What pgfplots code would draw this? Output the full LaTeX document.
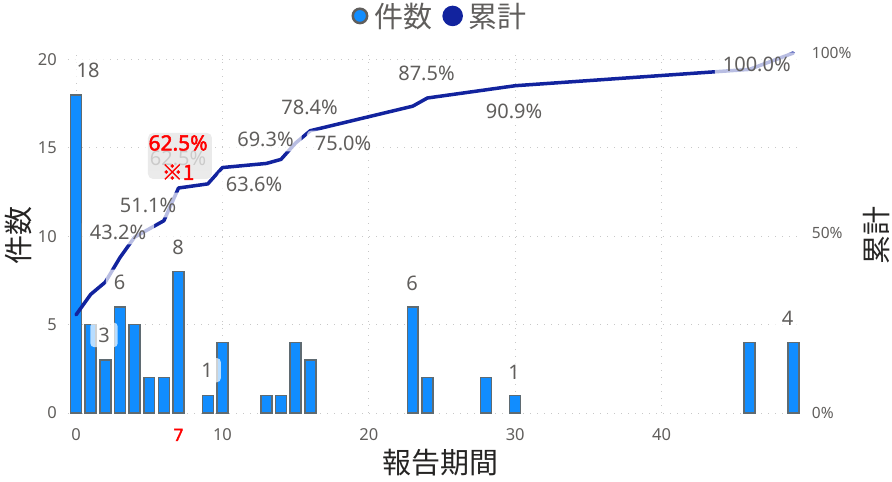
\documentclass[border=0pt]{standalone}
\usepackage{fontspec}
\setmainfont{Noto Sans}
\newfontfamily\cjk{Noto Sans CJK JP}
\newfontfamily\fbold{Noto Sans}[FakeBold=2.2]
\newfontfamily\cjkbold{Noto Sans CJK JP}[FakeBold=1.8]
\usepackage{pgfplots}
\pgfplotsset{compat=1.18}
\definecolor{barblue}{HTML}{118DFF}
\definecolor{barborder}{HTML}{5F6B72}
\definecolor{lineblue}{HTML}{12239E}
\definecolor{textgray}{HTML}{605E5C}
\definecolor{titledark}{HTML}{252423}
\definecolor{gridgray}{HTML}{C8C8C8}
\definecolor{redc}{HTML}{FF0000}
\definecolor{boxgray}{HTML}{E6E6E6}
\begin{document}
\begin{tikzpicture}[x=1pt,y=1pt]
\useasboundingbox (0,0) rectangle (892,482);
\pgfplotsset{
  base/.style={
    scale only axis, width=732.7pt, height=360pt,
    at={(68pt,69pt)}, anchor=south west,
    xmin=-0.55, xmax=49.5,
    axis line style={draw=none},
    tick style={draw=none},
    clip=false,
    /pgf/number format/assume math mode=true,
    tick label style={font=\fontsize{16.5}{18}\selectfont, text=textgray},
  }
}
\tikzset{
  dlabel/.style={font=\fontsize{20}{22}\selectfont, text=textgray, fill=white, fill opacity=0.7, text opacity=1, rounded corners=4pt, inner xsep=8pt, inner ysep=5pt}
}
\begin{axis}[base,
  ybar,
  ymin=0, ymax=20.37,
  ytick={0,5,10,15,20},
  xtick={0,10,20,30,40},
  extra x ticks={7},
  extra x tick style={grid=none, tick label style={text=redc, font=\fbold\fontsize{17}{18}\selectfont}},
  grid=major,
  grid style={gridgray, line width=0.9pt, dash pattern=on 1pt off 6pt},
  xticklabel style={yshift=-8pt},
  yticklabel style={xshift=-7.7pt},
  ylabel={件数},
  xlabel={報告期間},
  every axis y label/.style={at={(axis description cs:-0.068,0.494)}, anchor=center, rotate=90, font=\cjk\fontsize{29}{32}\selectfont, text=titledark},
  every axis x label/.style={at={(axis description cs:0.508,-0.139)}, anchor=center, font=\cjk\fontsize{29}{32}\selectfont, text=titledark},
]
\addplot[fill=barblue, draw=barborder, line width=1.5pt, bar width=0.75] coordinates {
(0,18) (1,5) (2,3) (3,6) (4,5) (5,2) (6,2) (7,8) (9,1) (10,4)
(13,1) (14,1) (15,4) (16,3) (23,6) (24,2) (28,2) (30,1) (46,4) (49,4)
};
\end{axis}
\begin{axis}[base,
  ymin=0, ymax=1,
  axis x line=none,
  axis y line*=right,
  axis line style={draw=none},
  ytick={0,0.5,1}, yticklabels={0\%,50\%,100\%},
  yticklabel style={xshift=7.7pt, font=\fontsize{15.5}{18}\selectfont},
  ylabel={累計},
  every axis y label/.style={at={(axis description cs:1.104,0.494)}, anchor=center, rotate=90, font=\cjk\fontsize{29}{32}\selectfont, text=titledark},
  legend style={at={(axis description cs:0.508,1.103)}, anchor=center, draw=none, fill=none, font=\cjk\fontsize{29}{31}\selectfont, text=textgray, legend columns=-1,
    /tikz/every odd column/.append style={column sep=4pt},
    /tikz/every even column/.append style={column sep=8pt}},
]
\addlegendimage{legend image code/.code={\draw[fill=barblue, draw=textgray, line width=2.5pt] (0pt,0pt) circle (7.2pt);}}
\addlegendentry{件数}
\addplot[lineblue, line width=3.5pt, line join=round, line cap=round, legend image code/.code={\fill[lineblue] (0pt,0pt) circle (8.5pt);}] coordinates {
(0,0.2727) (1,0.3295) (2,0.3636) (3,0.4318) (4,0.4886) (5,0.5114) (6,0.5341) (7,0.6250)
(9,0.6364) (10,0.6818) (13,0.6932) (14,0.7045) (15,0.7500) (16,0.7841) (23,0.8523)
(24,0.8750) (28,0.8977) (30,0.9091) (46,0.9545) (49,1.0000)
};
\addlegendentry{累計}
% bar labels
\node[dlabel] at (axis cs:0.82,0.953) {18};
\node[dlabel] at (axis cs:1.91,0.217) {3};
\node[dlabel] at (axis cs:2.97,0.364) {6};
\node[dlabel] at (axis cs:6.97,0.461) {8};
\node[dlabel] at (axis cs:8.95,0.119) {1};
\node[dlabel] at (axis cs:22.95,0.361) {6};
\node[dlabel] at (axis cs:29.92,0.114) {1};
\node[dlabel] at (axis cs:48.6,0.264) {4};
% line labels
\node[dlabel] at (axis cs:2.87,0.503) {43.2\%};
\node[dlabel] at (axis cs:4.92,0.578) {51.1\%};
\node[dlabel] at (axis cs:6.97,0.706) {62.5\%};
\node[dlabel] at (axis cs:12.16,0.636) {63.6\%};
\node[dlabel] at (axis cs:12.94,0.761) {69.3\%};
\node[dlabel] at (axis cs:15.95,0.850) {78.4\%};
\node[dlabel] at (axis cs:18.24,0.750) {75.0\%};
\node[dlabel] at (axis cs:23.94,0.944) {87.5\%};
\node[dlabel] at (axis cs:29.92,0.839) {90.9\%};
\node[dlabel] at (axis cs:46.5,0.967) {100.0\%};
% annotation
\node[fill=boxgray, fill opacity=0.8, rounded corners=5pt, minimum width=64pt, minimum height=46pt, inner sep=0pt] at (axis cs:7.1,0.714) {};
\node[font=\fbold\fontsize{21}{23}\selectfont, text=redc, inner sep=0pt] at (axis cs:6.97,0.75) {62.5\%};
\node[font=\cjkbold\fontsize{21}{23}\selectfont, text=redc, inner sep=0pt] at (axis cs:6.97,0.669) {※1};
\end{axis}
\end{tikzpicture}
\end{document}
